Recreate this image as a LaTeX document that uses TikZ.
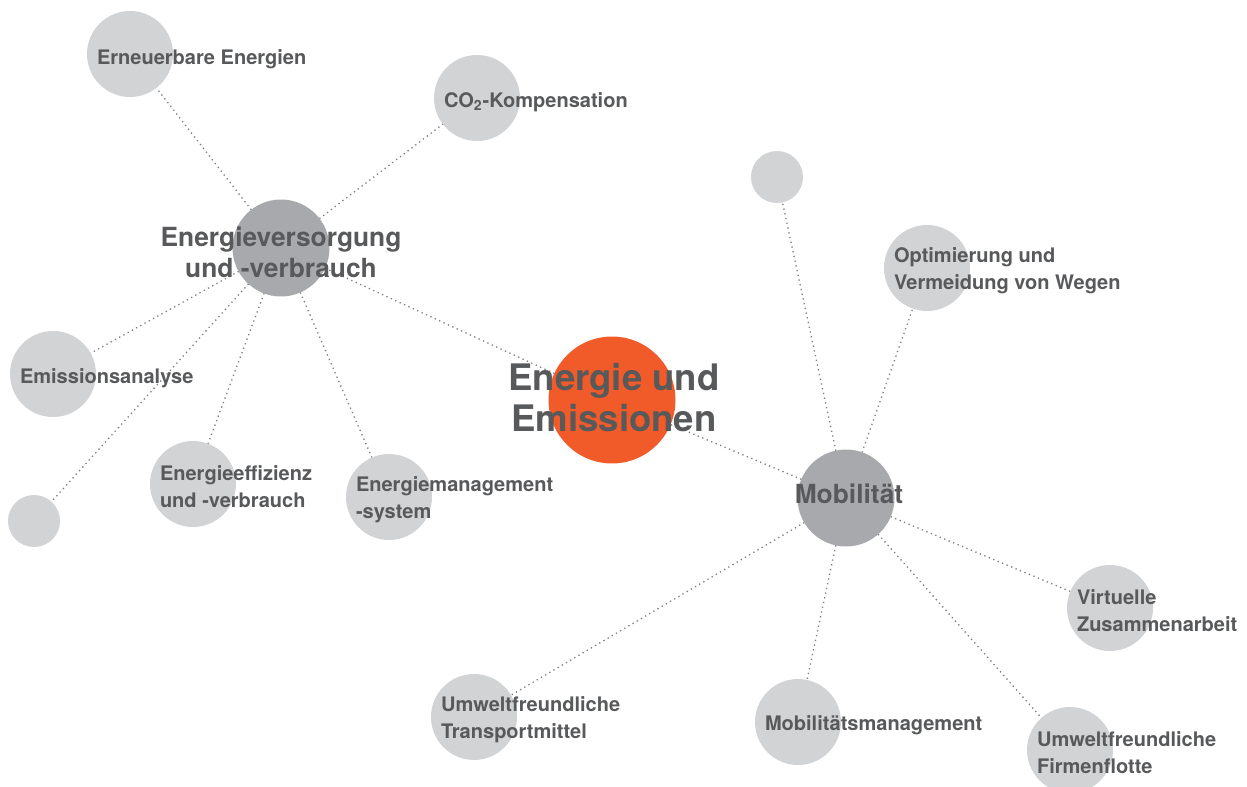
\documentclass[tikz,border=0pt]{standalone}
\usepackage{fontspec}
\setmainfont{TeX Gyre Heros}
\usepackage{tikz}
\usetikzlibrary{backgrounds}
\tikzstyle{leaf} = [circle, fill=leafgray, minimum size=1.72cm, inner sep=0pt]
\tikzstyle{pebble} = [circle, fill=leafgray, minimum size=1.04cm, inner sep=0pt]
\tikzstyle{hub} = [circle, fill=hubgray, minimum size=1.94cm, inner sep=0pt]
\tikzstyle{core} = [circle, fill=coreorange, minimum size=2.54cm, inner sep=0pt]
\tikzstyle{txt} = [anchor=west, inner sep=0pt, align=left, text=textgray, font=\bfseries\fontsize{11.4}{15.4}\selectfont]
\tikzstyle{hubtxt} = [inner sep=0pt, align=center, text=textgray, font=\bfseries\fontsize{15}{17.6}\selectfont]
\tikzstyle{coretxt} = [inner sep=0pt, align=center, text=textgray, font=\bfseries\fontsize{20.8}{23.3}\selectfont]
\tikzstyle{link} = [linegray, dotted, line width=0.75pt]
\definecolor{leafgray}{HTML}{D1D3D4}
\definecolor{hubgray}{HTML}{A7A9AC}
\definecolor{coreorange}{HTML}{F15A29}
\definecolor{textgray}{HTML}{58595B}
\definecolor{linegray}{HTML}{808184}

\begin{document}
\begin{tikzpicture}[x=0.02cm,y=-0.02cm]
			\useasboundingbox (0,0) rectangle (1247,787);
			% centre and the two hubs
			\node[core] (ee) at (612,400) {};
			\node[hub] (evb) at (281,248) {};
			\node[hub] (mob) at (846,498) {};
			% energy side
			\node[leaf] (ern) at (130,54) {};
			\node[leaf] (co2) at (477,98) {};
			\node[leaf] (ema) at (53,374) {};
			\node[pebble] (evbdot) at (34,521) {};
			\node[leaf] (eff) at (193,484) {};
			\node[leaf] (ems) at (389,497) {};
			% mobility side
			\node[pebble] (mobdot) at (777,177) {};
			\node[leaf] (opt) at (927,268) {};
			\node[leaf] (vza) at (1110,608) {};
			\node[leaf] (utm) at (474,717) {};
			\node[leaf] (mma) at (798,722) {};
			\node[leaf] (uff) at (1070,750) {};
			% dotted spokes behind the circles
			\begin{scope}[on background layer]
			\foreach \n in {ern,co2,ema,evbdot,eff,ems,ee}
				\draw[link] (evb.center) -- (\n.center);
			\foreach \n in {ee,mobdot,opt,vza,utm,mma,uff}
				\draw[link] (mob.center) -- (\n.center);
			\end{scope}
			% labels
			\node[coretxt] at ([xshift=0.04cm,yshift=0.04cm]ee.center) {Energie und\\Emissionen};
			\node[hubtxt] at ([yshift=-0.09cm]evb.center) {Energieversorgung\\und -verbrauch};
			\node[hubtxt] at ([xshift=0.06cm,yshift=0.08cm]mob.center) {Mobilität};
			\node[txt] at ([xshift=0.2cm,yshift=-0.1cm]ern.west) {Erneuerbare Energien};
			\node[txt] at ([xshift=0.2cm,yshift=-0.08cm]co2.west) {CO\textsubscript{2}-Kompensation};
			\node[txt] at ([xshift=0.2cm,yshift=-0.08cm]ema.west) {Emissionsanalyse};
			\node[txt] at ([xshift=0.2cm,yshift=-0.06cm]eff.west) {Energieeffizienz\\und -verbrauch};
			\node[txt] at ([xshift=0.2cm,yshift=-0.06cm]ems.west) {Energiemanagement\\-system};
			\node[txt] at ([xshift=0.2cm,yshift=-0.06cm]opt.west) {Optimierung und\\Vermeidung von Wegen};
			\node[txt] at ([xshift=0.2cm,yshift=-0.06cm]vza.west) {Virtuelle\\Zusammenarbeit};
			\node[txt] at ([xshift=0.2cm,yshift=-0.06cm]utm.west) {Umweltfreundliche\\Transportmittel};
			\node[txt] at ([xshift=0.2cm,yshift=-0.06cm]mma.west) {Mobilitätsmanagement};
			\node[txt] at ([xshift=0.2cm,yshift=-0.06cm]uff.west) {Umweltfreundliche\\Firmenflotte};
		\end{tikzpicture}
\end{document}
